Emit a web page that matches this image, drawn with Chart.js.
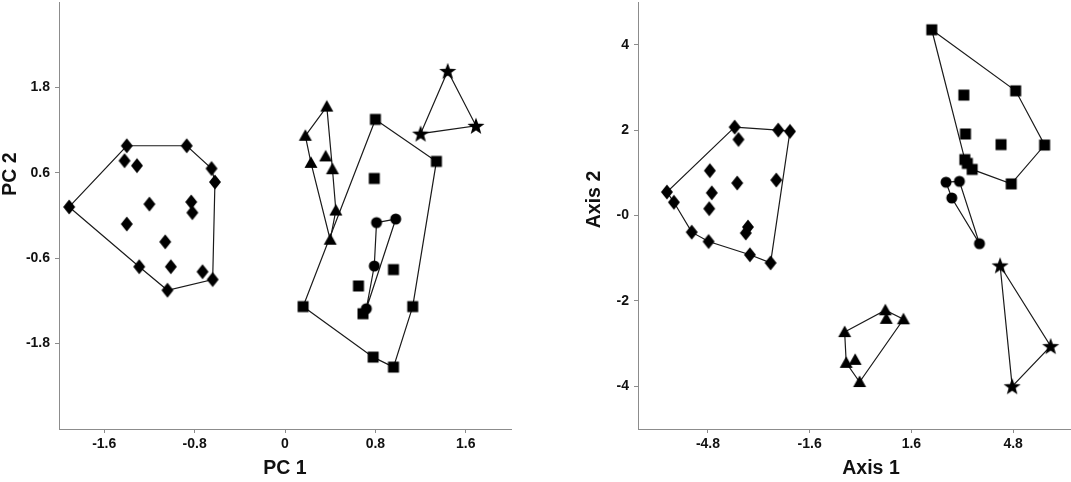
<!DOCTYPE html>
<html>
<head>
<meta charset="utf-8">
<script src="https://cdn.jsdelivr.net/npm/chart.js@4.4.1/dist/chart.umd.min.js"></script>
<style>
  html, body { margin: 0; padding: 0; background: #fff; }
  #wrap { position: relative; width: 1071px; height: 482px; overflow: hidden; }
  canvas { position: absolute; top: 0; }
  #pcaChart { left: 0; }
  #axisChart { left: 540px; }
</style>
</head>
<body>
<div id="wrap">
  <canvas id="pcaChart" width="520" height="482"></canvas>
  <canvas id="axisChart" width="531" height="482"></canvas>
</div>
<script>
// ---- left panel (PC 1 / PC 2) ----
const pcaDiamonds = [[-1.91,0.12],[-1.40,0.98],[-0.87,0.98],[-0.65,0.66],[-0.62,0.47],[-1.42,0.77],[-1.31,0.70],[-1.20,0.16],[-0.83,0.19],[-0.82,0.04],[-1.40,-0.12],[-1.06,-0.37],[-1.29,-0.72],[-1.01,-0.72],[-0.73,-0.79],[-0.64,-0.90],[-1.04,-1.05]];
const pcaDiamondHull = [0,1,2,3,4,15,16,12,0];
const pcaTriangles = [[0.37,1.53],[0.18,1.12],[0.23,0.74],[0.36,0.83],[0.42,0.65],[0.45,0.07],[0.40,-0.34]];
const pcaTriangleHull = [0,1,2,6,5,4,0];
const pcaSquares = [[0.80,1.35],[1.34,0.76],[0.79,0.52],[0.96,-0.76],[0.65,-0.99],[0.16,-1.28],[1.13,-1.28],[0.69,-1.38],[0.78,-1.99],[0.96,-2.13]];
const pcaSquareHull = [0,1,6,9,8,5,0];
const pcaCircles = [[0.81,-0.10],[0.98,-0.05],[0.79,-0.71],[0.72,-1.31]];
const pcaCircleHull = [0,1,3,2,0];
const pcaStars = [[1.44,2.03],[1.69,1.26],[1.20,1.15]];
const pcaStarHull = [0,1,2,0];
const pcaXTicks = [-1.6, -0.8, 0, 0.8, 1.6];
const pcaXLabels = ['-1.6', '-0.8', '0', '0.8', '1.6'];
const pcaYTicks = [-1.8, -0.6, 0.6, 1.8];
const pcaYLabels = ['-1.8', '-0.6', '0.6', '1.8'];

// ---- right panel (Axis 1 / Axis 2) ----
const axDiamonds = [[-6.09,0.55],[-5.87,0.31],[-5.31,-0.39],[-4.78,-0.61],[-3.96,2.07],[-3.84,1.78],[-4.74,1.05],[-4.68,0.53],[-4.76,0.16],[-3.88,0.76],[-3.54,-0.27],[-3.61,-0.41],[-3.48,-0.92],[-2.83,-1.11],[-2.65,0.83],[-2.59,2.00],[-2.22,1.97]];
const axDiamondHull = [4,15,16,13,12,3,2,1,0,4];
const axSquares = [[2.24,4.35],[4.88,2.92],[5.79,1.65],[4.74,0.74],[3.51,1.08],[3.36,1.22],[3.28,1.31],[3.30,1.91],[3.25,2.82],[4.42,1.66]];
const axSquareHull = [0,1,2,3,4,5,6,0];
const axCircles = [[2.69,0.78],[3.11,0.80],[2.87,0.41],[3.74,-0.66]];
const axCircleHull = [0,1,3,2,0];
const axTriangles = [[-0.50,-2.73],[0.78,-2.22],[0.81,-2.42],[1.35,-2.43],[-0.45,-3.45],[-0.17,-3.38],[-0.03,-3.90]];
const axTriangleHull = [0,1,3,6,4,0];
const axStars = [[4.39,-1.17],[5.98,-3.06],[4.77,-4.00]];
const axStarHull = [0,1,2,0];
const axXTicks = [-4.8, -1.6, 1.6, 4.8];
const axXLabels = ['-4.8', '-1.6', '1.6', '4.8'];
const axYTicks = [-4, -2, 0, 2, 4];
const axYLabels = ['-4', '-2', '-0', '2', '4'];

const FONT = '"Liberation Sans", Arial, sans-serif';
const INK = '#111';
const AXIS_GRAY = '#8c8c8c';
Chart.defaults.font.family = FONT;

// filled marker glyphs (chart.js has no filled star / tall diamond)
function makeMarker(kind) {
  const c = document.createElement('canvas');
  c.width = 20; c.height = 20;
  const g = c.getContext('2d');
  const m = 10;
  g.fillStyle = '#000';
  g.beginPath();
  if (kind === 'diamond') {
    g.moveTo(m, m - 7.5); g.lineTo(m + 6, m); g.lineTo(m, m + 7.5); g.lineTo(m - 6, m);
  } else if (kind === 'triangle') {
    g.moveTo(m, m - 6.5); g.lineTo(m + 6.5, m + 5); g.lineTo(m - 6.5, m + 5);
  } else if (kind === 'square') {
    g.rect(m - 5.5, m - 5.5, 11, 11);
  } else if (kind === 'circle') {
    g.arc(m, m, 5.5, 0, Math.PI * 2);
  } else if (kind === 'star') {
    for (let k = 0; k < 10; k++) {
      const r = k % 2 === 0 ? 9 : 3.7;
      const a = -Math.PI / 2 + k * Math.PI / 5;
      const px = m + r * Math.cos(a), py = m + 0.7 + r * Math.sin(a);
      if (k === 0) g.moveTo(px, py); else g.lineTo(px, py);
    }
  }
  g.closePath();
  g.fill();
  return c;
}

function groupDatasets(points, hull, kind) {
  const pts = points.map(p => ({ x: p[0], y: p[1] }));
  return [
    {
      data: pts,
      pointStyle: makeMarker(kind),
      pointRadius: 6,
      showLine: false
    },
    {
      data: hull.map(i => pts[i]),
      showLine: true,
      pointRadius: 0,
      borderColor: '#1a1a1a',
      borderWidth: 1.2,
      tension: 0,
      fill: false
    }
  ];
}

const sideTitles = {
  id: 'sideTitles',
  afterDraw(chart, args, opts) {
    const ctx = chart.ctx;
    ctx.save();
    ctx.fillStyle = INK;
    ctx.font = 'bold 19.5px ' + FONT;
    ctx.textAlign = 'center';
    ctx.textBaseline = 'middle';
    ctx.fillText(opts.xText, opts.xAt[0], opts.xAt[1]);
    ctx.translate(opts.yAt[0], opts.yAt[1]);
    ctx.rotate(-Math.PI / 2);
    ctx.fillText(opts.yText, 0, 0);
    ctx.restore();
  }
};

function axisOpts(min, max, ticks, labels, fitProp, fitSize) {
  return {
    type: 'linear',
    min: min,
    max: max,
    afterBuildTicks: s => { s.ticks = ticks.map(v => ({ value: v })); },
    afterFit: s => {
      s[fitProp] = fitSize;
      s.paddingTop = 0; s.paddingBottom = 0; s.paddingLeft = 0; s.paddingRight = 0;
    },
    grid: { display: true, drawOnChartArea: false, drawTicks: true, tickLength: 4, color: AXIS_GRAY },
    border: { display: true, color: AXIS_GRAY, width: 1 },
    ticks: {
      color: INK,
      font: { size: 14, weight: 'bold' },
      padding: fitProp === 'width' ? 5 : 3,
      autoSkip: false,
      maxRotation: 0,
      callback: (v, i) => labels[i]
    }
  };
}

function buildChart(id, datasets, xr, yr, yWidth, padRight, titles) {
  return new Chart(document.getElementById(id), {
    type: 'scatter',
    data: { datasets: datasets },
    options: {
      responsive: false,
      animation: false,
      events: [],
      layout: { autoPadding: false, padding: { top: 2, right: padRight, bottom: 0, left: 0 } },
      plugins: { legend: { display: false }, tooltip: { enabled: false }, sideTitles: titles },
      scales: {
        x: axisOpts(xr[0], xr[1], xr[2], xr[3], 'height', 53),
        y: axisOpts(yr[0], yr[1], yr[2], yr[3], 'width', yWidth)
      }
    },
    plugins: [sideTitles]
  });
}

buildChart('pcaChart',
  [].concat(
    groupDatasets(pcaDiamonds, pcaDiamondHull, 'diamond'),
    groupDatasets(pcaTriangles, pcaTriangleHull, 'triangle'),
    groupDatasets(pcaSquares, pcaSquareHull, 'square'),
    groupDatasets(pcaCircles, pcaCircleHull, 'circle'),
    groupDatasets(pcaStars, pcaStarHull, 'star')
  ),
  [-2, 2, pcaXTicks, pcaXLabels],
  [-3, 3, pcaYTicks, pcaYLabels],
  59, 9,
  { xText: 'PC 1', xAt: [285, 469], yText: 'PC 2', yAt: [11, 174] }
);

buildChart('axisChart',
  [].concat(
    groupDatasets(axDiamonds, axDiamondHull, 'diamond'),
    groupDatasets(axSquares, axSquareHull, 'square'),
    groupDatasets(axCircles, axCircleHull, 'circle'),
    groupDatasets(axTriangles, axTriangleHull, 'triangle'),
    groupDatasets(axStars, axStarHull, 'star')
  ),
  [-7, 6.62, axXTicks, axXLabels],
  [-5, 5, axYTicks, axYLabels],
  98, 0,
  { xText: 'Axis 1', xAt: [331, 469], yText: 'Axis 2', yAt: [55, 199.5] }
);
</script>
</body>
</html>
